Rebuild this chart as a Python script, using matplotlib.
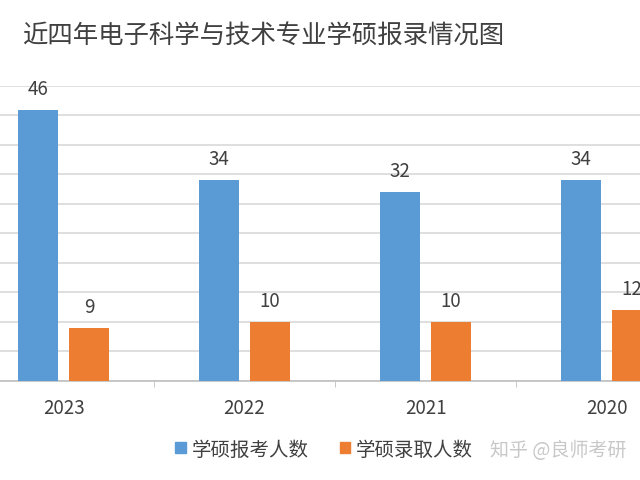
import matplotlib
matplotlib.use("Agg")
import matplotlib.pyplot as plt
from matplotlib.patches import Patch
import numpy as np

plt.rcParams['font.family'] = ['Noto Sans CJK SC', 'DejaVu Sans']

title = "近四年电子科学与技术专业学硕报录情况图"
years = ["2023", "2022", "2021", "2020"]
applicants = [46, 34, 32, 34]
admitted = [9, 10, 10, 12]
series_names = ["学硕报考人数", "学硕录取人数"]
watermark = "知乎 @良师考研"

blue = "#5B9BD5"
orange = "#ED7D31"
text_col = "#404040"

fig = plt.figure(figsize=(6.4, 4.81), dpi=100)
ax = fig.add_axes([0, (481 - 381.7) / 481, 1, (381.7 - 87) / 481])

x = np.arange(len(years))
w = 0.221
off = 0.141
b1 = ax.bar(x - off, applicants, w, color=blue, zorder=3)
b2 = ax.bar(x + off, admitted, w, color=orange, zorder=3)

for bars, vals in ((b1, applicants), (b2, admitted)):
    for r, v in zip(bars, vals):
        ax.annotate(str(v), (r.get_x() + r.get_width() / 2, v), xytext=(0, 15.5),
                    textcoords="offset points", ha="center", va="center",
                    fontsize=13.5, color=text_col, annotation_clip=False)

ax.set_yticks(np.arange(0, 51, 5))
ax.yaxis.grid(True, color="#D9D9D9", linewidth=1.2, zorder=0)
ax.tick_params(axis="y", left=False, labelleft=False)
ax.set_xticks(x)
ax.set_xticklabels(years, fontsize=13.5, color=text_col)
ax.tick_params(axis="x", length=0, pad=12)
ax.set_xticks(np.arange(-0.5, 4, 1), minor=True)
ax.tick_params(axis="x", which="minor", length=4, color="#BFBFBF")
ax.set_xlim(-0.351, 3.185)
ax.set_ylim(0, 50)
for s in ("top", "right", "left"):
    ax.spines[s].set_visible(False)
ax.spines["bottom"].set_color("#BFBFBF")
ax.spines["bottom"].set_linewidth(1.2)

fig.text(22 / 640, 1 - 37 / 481, title, fontsize=18.3, color=text_col, va="center", ha="left")

handles = [Patch(color=blue), Patch(color=orange)]
fig.legend(handles, series_names, loc="center", bbox_to_anchor=(324 / 640, 1 - 450 / 481),
           ncol=2, frameon=False, fontsize=14, handlelength=0.55, handleheight=0.55,
           handletextpad=0.3, columnspacing=1.6, labelcolor=text_col)

fig.text(490 / 640, 1 - 451 / 481, watermark, fontsize=13.7, color="#C8C8C8", va="center", ha="left")

fig.savefig("out.png", dpi=100, facecolor="white")
